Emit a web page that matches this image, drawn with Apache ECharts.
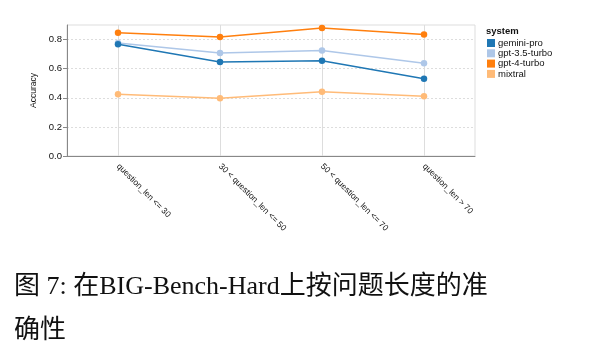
<!DOCTYPE html>
<html><head><meta charset="utf-8">
<script src="https://cdn.jsdelivr.net/npm/echarts@6/dist/echarts.min.js"></script>
<style>html,body{margin:0;padding:0;background:#fff}#c{width:604px;height:356px}</style>
</head><body><div id="c"></div>
<script>
const categories = ['question_len <= 30', '30 < question_len <= 50', '50 < question_len <= 70', 'question_len > 70'];
const geminiPro = [0.768, 0.646, 0.655, 0.531];
const gpt35Turbo = [0.777, 0.708, 0.724, 0.637];
const gpt4Turbo = [0.846, 0.818, 0.880, 0.834];
const mixtral = [0.425, 0.397, 0.441, 0.411];
const seriesNames = ['gemini-pro', 'gpt-3.5-turbo', 'gpt-4-turbo', 'mixtral'];
const seriesData = [geminiPro, gpt35Turbo, gpt4Turbo, mixtral];
const colors = ['#1f77b4', '#aec7e8', '#ff7f0e', '#ffbb78'];
const yTicks = [0, 0.2, 0.4, 0.6, 0.8];

const chart = echarts.init(document.getElementById('c'), null, {renderer: 'canvas'});
const font = 'Liberation Sans, Arial, sans-serif';
const series = seriesNames.map((n, i) => ({
  name: n, type: 'line', data: seriesData[i], z: 10 - i,
  symbol: 'circle', symbolSize: 6.5, color: colors[i],
  lineStyle: {width: 1.5, color: colors[i]},
  itemStyle: {color: colors[i]},
  emphasis: {disabled: true}, animation: false
}));
series.push({
  type: 'line', data: [], silent: true, z: 1,
  markLine: {silent: true, symbol: 'none', label: {show: false}, animation: false,
    lineStyle: {color: '#dddddd', type: 'solid', width: 1},
    data: categories.map(c => ({xAxis: c}))}
});
chart.setOption({
  animation: false,
  grid: {left: 67, right: 129, top: 25, bottom: 200, show: true, borderColor: '#dddddd', borderWidth: 1},
  xAxis: {
    type: 'category', data: categories, boundaryGap: true,
    axisLine: {lineStyle: {color: '#888888', width: 1}},
    axisTick: {alignWithLabel: true, length: 4, lineStyle: {color: '#888888'}},
    axisLabel: {rotate: -45, fontSize: 8.5, color: '#111', fontFamily: font, margin: 9, interval: 0},
    splitLine: {show: false}
  },
  yAxis: {
    type: 'value', min: 0, max: 0.9, interval: 0.2,
    name: 'Accuracy', nameLocation: 'middle', nameGap: 29, nameRotate: 90,
    nameTextStyle: {fontSize: 8.5, color: '#111', fontFamily: font},
    axisLine: {show: true, lineStyle: {color: '#888888'}},
    axisTick: {show: true, length: 4, customValues: yTicks, lineStyle: {color: '#888888'}},
    axisLabel: {fontSize: 9.5, color: '#111', fontFamily: font, margin: 5, customValues: yTicks,
      formatter: v => v.toFixed(1)},
    splitLine: {lineStyle: {color: '#dddddd', type: [2, 2]}}
  },
  legend: {
    orient: 'vertical', left: 487, top: 38, padding: 0, icon: 'rect', itemWidth: 8, itemHeight: 8, itemGap: 0.3,
    data: seriesNames,
    textStyle: {fontSize: 9.5, lineHeight: 10, color: '#111', fontFamily: font, padding: [0, 0, 0, -2]},
    selectedMode: false
  },
  graphic: [
    {type: 'text', left: 486, top: 26, style: {text: 'system', fontSize: 9.5, fontWeight: 'bold', fill: '#111', fontFamily: font}},
    {type: 'text', left: 14, top: 274, style: {text: '图 7: 在BIG-Bench-Hard上按问题长度的准', fontSize: 26, fill: '#111', fontFamily: 'Liberation Serif, Noto Sans CJK SC, serif'}},
    {type: 'text', left: 14, top: 318, style: {text: '确性', fontSize: 26, fill: '#111', fontFamily: 'Liberation Serif, Noto Sans CJK SC, serif'}}
  ],
  series: series
});
</script></body></html>
